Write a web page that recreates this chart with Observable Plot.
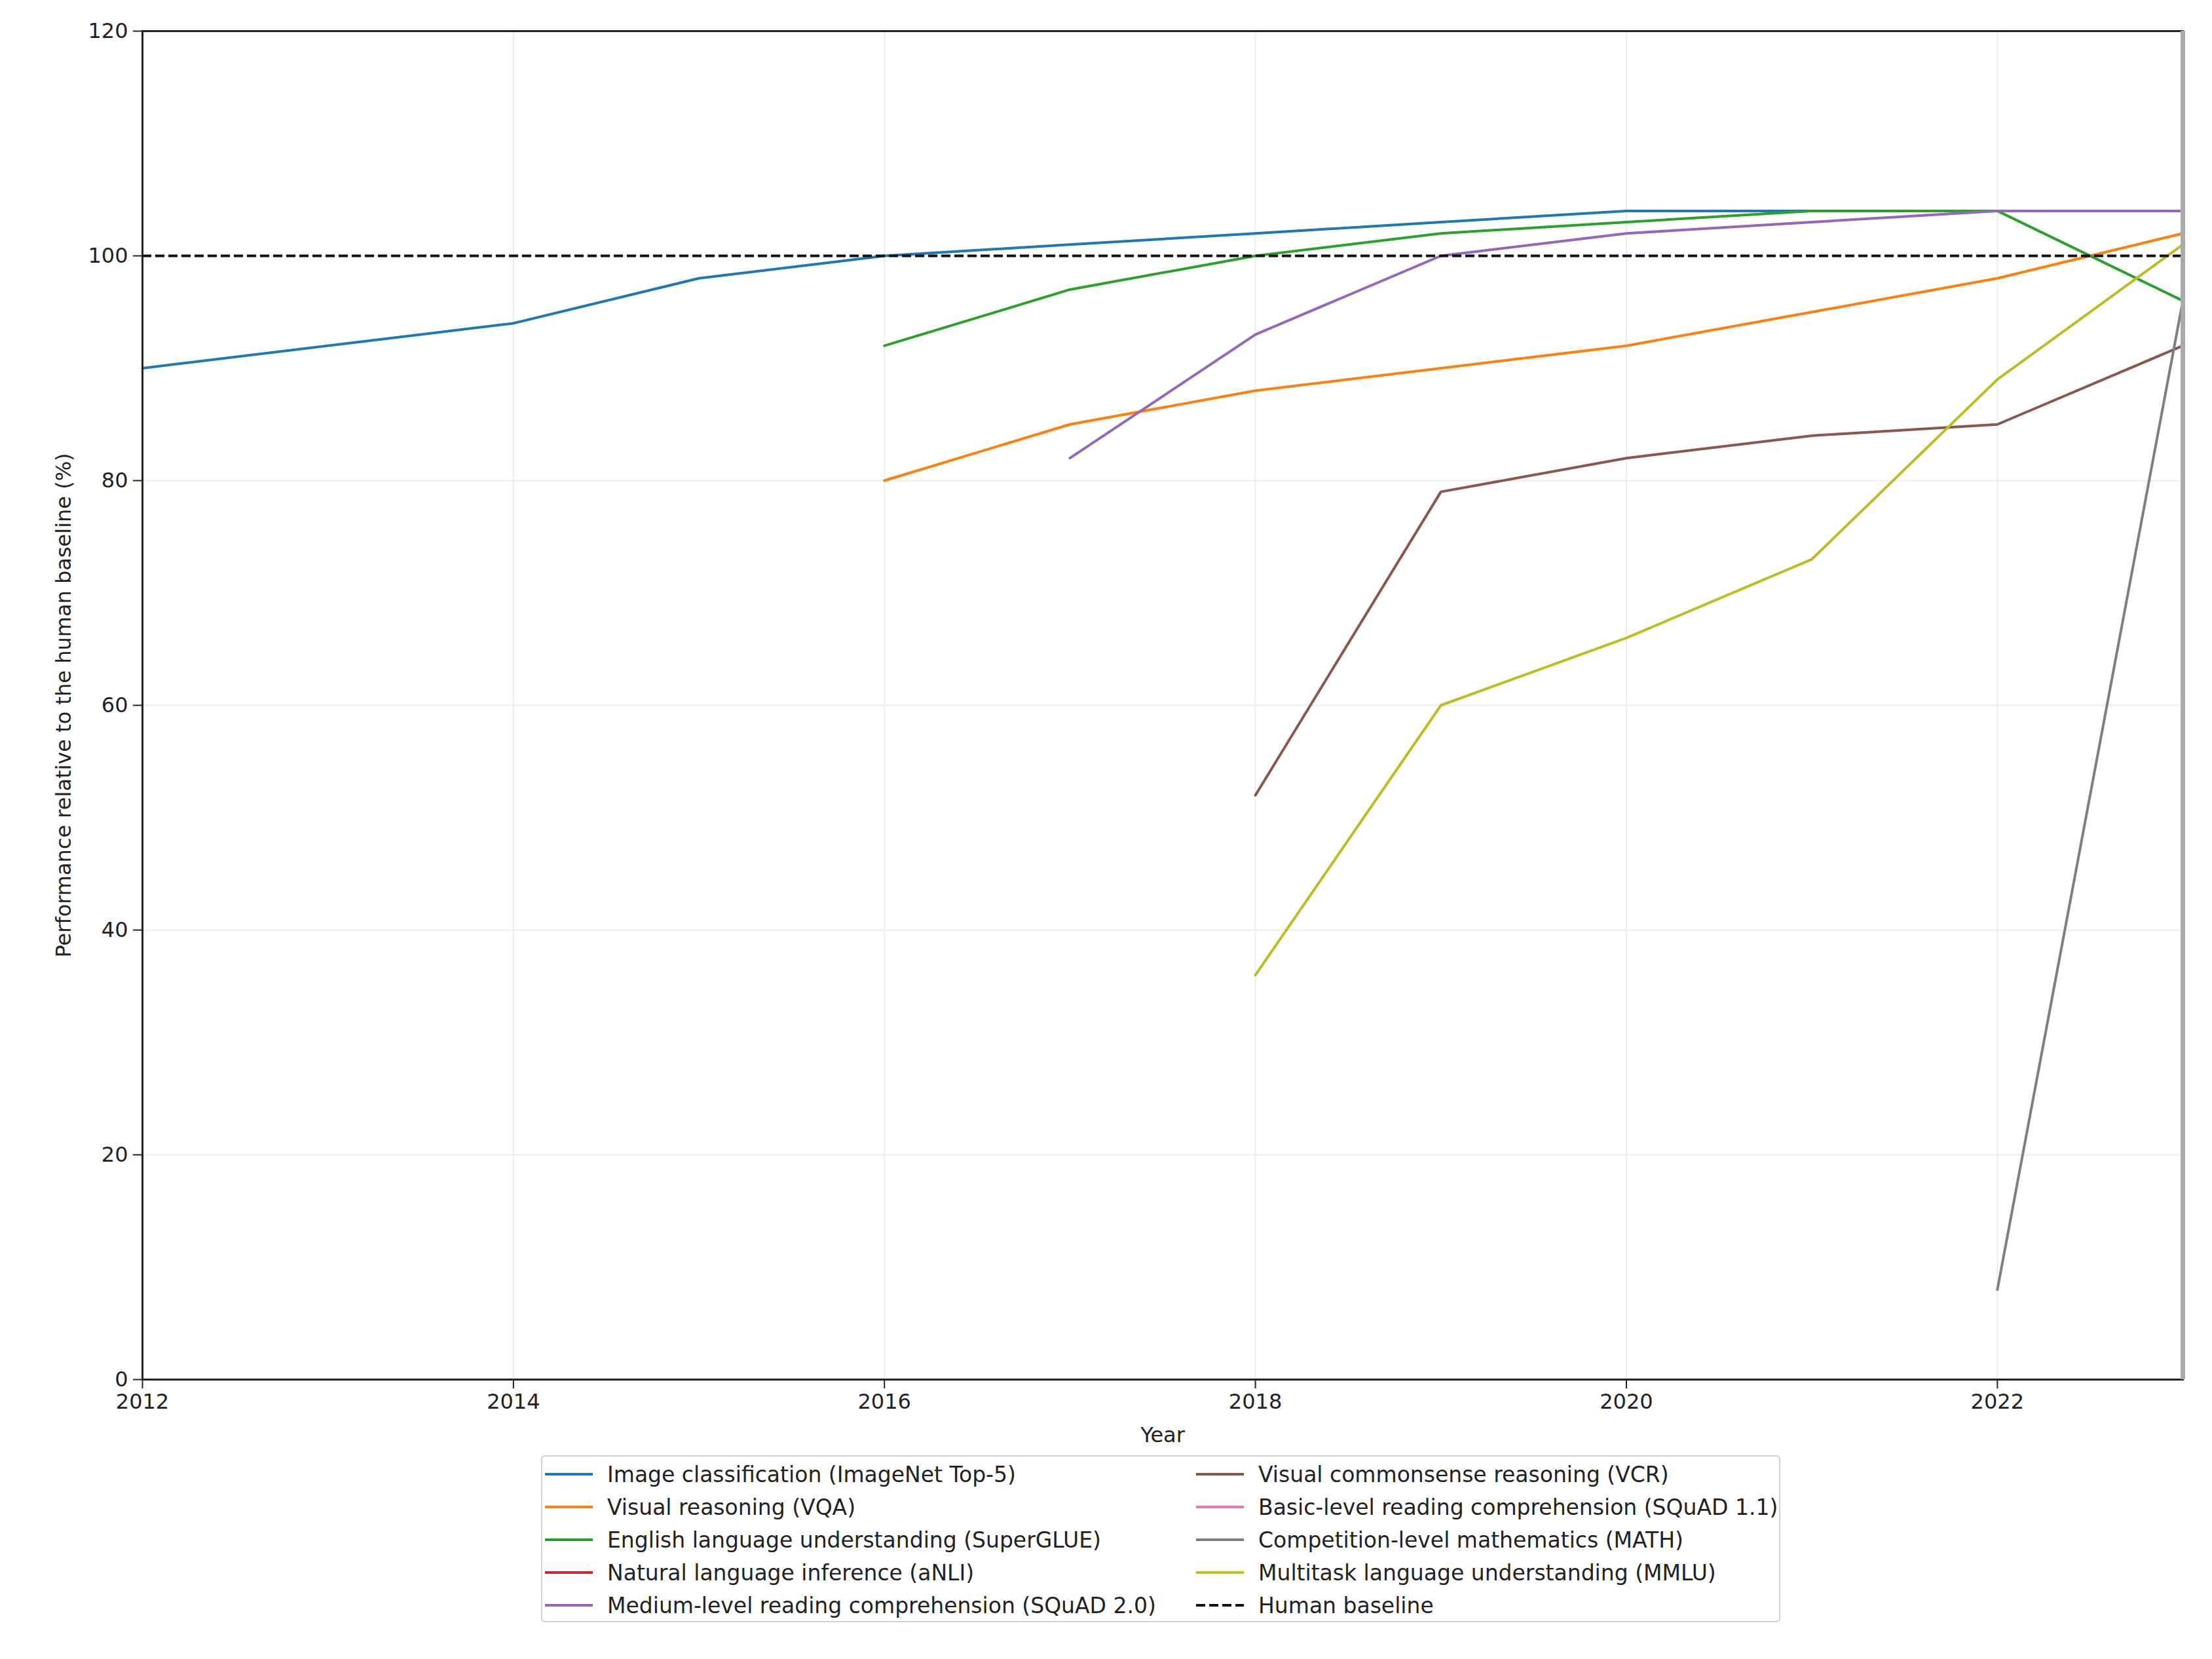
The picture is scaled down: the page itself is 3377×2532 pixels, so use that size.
<!DOCTYPE html>
<html>
<head>
<meta charset="utf-8">
<script src="https://cdn.jsdelivr.net/npm/d3@7"></script>
<script src="https://cdn.jsdelivr.net/npm/@observablehq/plot@0.6"></script>
<style>
  html, body { margin: 0; padding: 0; background: #fff; }
  #wrap { position: relative; width: 3377px; height: 2532px; font-family: "DejaVu Sans", sans-serif; }
  #legend { position: absolute; left: 826px; top: 2221px; width: 1892px; height: 255px; border: 2px solid #d0d0d0; border-radius: 6px; box-sizing: border-box; }
  .item { position: absolute; display: flex; align-items: center; font-size: 33px; color: #222; white-space: nowrap; }
  .item svg { margin-right: 22px; }
</style>
</head>
<body>
<div id="wrap"><div id="chart"></div><div id="legend"></div></div>
<script>
// ---- data ----
const seriesNames = [
  "Image classification (ImageNet Top-5)",
  "Visual reasoning (VQA)",
  "English language understanding (SuperGLUE)",
  "Natural language inference (aNLI)",
  "Medium-level reading comprehension (SQuAD 2.0)",
  "Visual commonsense reasoning (VCR)",
  "Basic-level reading comprehension (SQuAD 1.1)",
  "Competition-level mathematics (MATH)",
  "Multitask language understanding (MMLU)"
];
const baselineName = "Human baseline";
const baselineValue = [100];

const imagenetYears = [2012, 2014, 2015, 2016, 2017, 2018, 2019, 2020, 2021, 2022, 2023];
const imagenetValues = [90, 94, 98, 100, 101, 102, 103, 104, 104, 104, 104];
const vqaYears = [2016, 2017, 2018, 2019, 2020, 2021, 2022, 2023];
const vqaValues = [80, 85, 88, 90, 92, 95, 98, 102];
const superglueYears = [2016, 2017, 2018, 2019, 2020, 2021, 2022, 2023];
const superglueValues = [92, 97, 100, 102, 103, 104, 104, 96];
const anliYears = [];
const anliValues = [];
const squad2Years = [2017, 2018, 2019, 2020, 2021, 2022, 2023];
const squad2Values = [82, 93, 100, 102, 103, 104, 104];
const vcrYears = [2018, 2019, 2020, 2021, 2022, 2023];
const vcrValues = [52, 79, 82, 84, 85, 92];
const squad1Years = [];
const squad1Values = [];
const mathYears = [2022, 2023];
const mathValues = [8, 96];
const mmluYears = [2018, 2019, 2020, 2021, 2022, 2023];
const mmluValues = [36, 60, 66, 73, 89, 101];

const xTicks = [2012, 2014, 2016, 2018, 2020, 2022];
const yTicks = [0, 20, 40, 60, 80, 100, 120];
const xDomain = [2012, 2023];
const yDomain = [0, 120];

const palette = ["#1f77b4", "#ff7f0e", "#2ca02c", "#d62728", "#9467bd", "#8c564b", "#e377c2", "#7f7f7f", "#bcbd22"];

// ---- build table ----
const seriesData = [
  [imagenetYears, imagenetValues], [vqaYears, vqaValues], [superglueYears, superglueValues],
  [anliYears, anliValues], [squad2Years, squad2Values], [vcrYears, vcrValues],
  [squad1Years, squad1Values], [mathYears, mathValues], [mmluYears, mmluValues]
];
const rows = [];
seriesData.forEach(([ys, vs], i) => ys.forEach((y, j) => rows.push({series: seriesNames[i], year: y, value: vs[j]})));

const chart = Plot.plot({
  width: 3377,
  height: 2215,
  marginTop: 47,
  marginLeft: 217,
  marginRight: 45,
  marginBottom: 110,
  style: {fontFamily: "DejaVu Sans", fontSize: "32px", color: "#222", background: "#fff"},
  x: {domain: xDomain},
  y: {domain: yDomain},
  color: {domain: seriesNames, range: palette},
  marks: [
    Plot.gridX(xTicks, {stroke: "#ececec", strokeOpacity: 1, strokeWidth: 2}),
    Plot.gridY(yTicks, {stroke: "#ececec", strokeOpacity: 1, strokeWidth: 2}),
    Plot.axisX({ticks: xTicks, tickFormat: d => String(d), tickSize: 14, tickPadding: 8, strokeWidth: 2,
      label: "Year", labelAnchor: "center", labelOffset: 95, labelArrow: "none"}),
    Plot.axisY({ticks: yTicks, tickSize: 14, tickPadding: 8, strokeWidth: 2,
      label: "Performance relative to the human baseline (%)", labelAnchor: "center", labelOffset: 132, labelArrow: "none"}),
    Plot.line(rows, {x: "year", y: "value", z: "series", stroke: "series", strokeWidth: 4, curve: "linear"}),
    Plot.ruleY(baselineValue, {stroke: "#111", strokeWidth: 4, strokeDasharray: "14,6"}),
    Plot.frame({stroke: "#222", strokeWidth: 3}),
    Plot.ruleX([xDomain[1]], {stroke: "#aaa", strokeWidth: 7})
  ]
});
document.getElementById("chart").appendChild(chart);

// ---- legend ----
const legendItems = seriesNames.map((n, i) => ({name: n, color: palette[i], dash: null}))
  .concat([{name: baselineName, color: "#111", dash: "14,6"}]);
const legend = d3.select("#legend");
legendItems.forEach((it, i) => {
  const col = Math.floor(i / 5), row = i % 5;
  const div = legend.append("div").attr("class", "item")
    .style("left", (4 + col * 994) + "px")
    .style("top", (27 + row * 50 - 20) + "px")
    .style("height", "40px");
  const s = div.append("svg").attr("width", 73).attr("height", 20);
  s.append("line").attr("x1", 0).attr("x2", 73).attr("y1", 10).attr("y2", 10)
    .attr("stroke", it.color).attr("stroke-width", 4).attr("stroke-dasharray", it.dash);
  div.append("span").text(it.name);
});
</script>
</body>
</html>
